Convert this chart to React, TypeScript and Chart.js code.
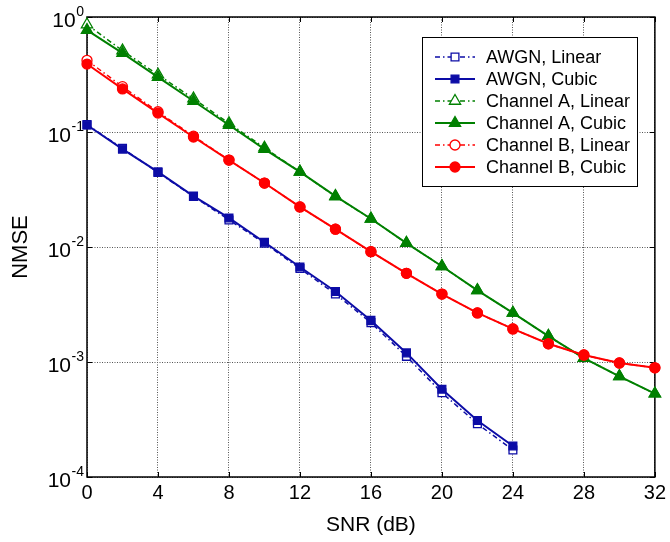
import React, { useEffect, useRef } from "react";
import { Chart, registerables } from "chart.js";

Chart.register(...registerables);

const SNR = [0, 2, 4, 6, 8, 10, 12, 14, 16, 18, 20, 22, 24, 26, 28, 30, 32];
const SNR_AWGN = [0, 2, 4, 6, 8, 10, 12, 14, 16, 18, 20, 22, 24];

const AWGN_LINEAR = [0.116, 0.072, 0.0445, 0.0275, 0.0172, 0.0108, 0.0065, 0.0039, 0.0022, 0.00112, 0.00054, 0.00029, 0.000172];
const AWGN_CUBIC = [0.115, 0.071, 0.045, 0.0277, 0.0179, 0.011, 0.0067, 0.0041, 0.0023, 0.0012, 0.00058, 0.00031, 0.000186];
const CHA_LINEAR = [0.86, 0.51, 0.315, 0.195, 0.119, 0.073, 0.045, 0.0275, 0.0176, 0.0108, 0.0068, 0.0042, 0.00267, 0.00168, 0.00108, 0.00075, 0.00053];
const CHA_CUBIC = [0.77, 0.486, 0.3, 0.186, 0.115, 0.071, 0.045, 0.0277, 0.0176, 0.0108, 0.0068, 0.0042, 0.00267, 0.00168, 0.00108, 0.00075, 0.00053];
const CHB_LINEAR = [0.42, 0.248, 0.15, 0.092, 0.057, 0.036, 0.0223, 0.0143, 0.0091, 0.0059, 0.0039, 0.00267, 0.00194, 0.00144, 0.00115, 0.00098, 0.00089];
const CHB_CUBIC = [0.39, 0.237, 0.146, 0.0905, 0.057, 0.036, 0.0223, 0.0143, 0.0091, 0.0059, 0.0039, 0.00267, 0.00194, 0.00144, 0.00115, 0.00098, 0.00089];

const SERIES_NAMES = [
  "AWGN, Linear",
  "AWGN, Cubic",
  "Channel A, Linear",
  "Channel A, Cubic",
  "Channel B, Linear",
  "Channel B, Cubic",
];

const X_TICKS = [0, 4, 8, 12, 16, 20, 24, 28, 32];
const Y_TICKS = [1e-4, 1e-3, 1e-2, 1e-1, 1];
const X_TITLE = "SNR (dB)";
const Y_TITLE = "NMSE";

const BLUE = "#0c0ca6";
const GREEN = "#008000";
const RED = "#ff0000";
const FONT = '"Liberation Sans", Arial, Helvetica, sans-serif';
const DASH_DOT = [5, 3, 1.5, 3];

function pts(xs: number[], ys: number[]) {
  return xs.map((x, i) => ({ x, y: ys[i] }));
}

function makeDataset(i: number, xs: number[], ys: number[], color: string, style: string, filled: boolean, radius: number) {
  return {
    label: SERIES_NAMES[i],
    data: pts(xs, ys),
    borderColor: color,
    backgroundColor: color,
    borderWidth: filled ? 2 : 1.5,
    borderDash: filled ? [] : DASH_DOT,
    pointStyle: style,
    pointRadius: radius,
    pointBorderWidth: 1.3,
    pointBorderColor: color,
    pointBackgroundColor: filled ? color : "#ffffff",
    tension: 0,
    clip: false as any,
    order: 10 - i,
  };
}

function drawMarker(ctx: CanvasRenderingContext2D, style: string, x: number, y: number, r: number, color: string, filled: boolean) {
  ctx.save();
  ctx.setLineDash([]);
  ctx.lineWidth = 1.3;
  ctx.strokeStyle = color;
  ctx.fillStyle = filled ? color : "#ffffff";
  ctx.beginPath();
  if (style === "rect") {
    const s = Math.SQRT1_2 * r;
    ctx.rect(x - s, y - s, 2 * s, 2 * s);
  } else if (style === "triangle") {
    let rad = 0;
    ctx.moveTo(x + Math.sin(rad) * r, y - Math.cos(rad) * r);
    rad += (2 * Math.PI) / 3;
    ctx.lineTo(x + Math.sin(rad) * r, y - Math.cos(rad) * r);
    rad += (2 * Math.PI) / 3;
    ctx.lineTo(x + Math.sin(rad) * r, y - Math.cos(rad) * r);
    ctx.closePath();
  } else {
    ctx.arc(x, y, r, 0, Math.PI * 2);
  }
  ctx.fill();
  ctx.stroke();
  ctx.restore();
}

const framePlugin = {
  id: "framePlugin",
  beforeDatasetsDraw(chart: any) {
    const { ctx, chartArea: a } = chart;
    const xs = chart.scales.x;
    const ys = chart.scales.y;
    ctx.save();
    ctx.strokeStyle = "#000";
    ctx.lineWidth = 1.5;
    ctx.setLineDash([]);
    ctx.strokeRect(a.left, a.top, a.right - a.left, a.bottom - a.top);
    ctx.lineWidth = 1;
    const tl = 5;
    ctx.beginPath();
    X_TICKS.forEach((v) => {
      const px = Math.round(xs.getPixelForValue(v)) + 0.5;
      ctx.moveTo(px, a.bottom);
      ctx.lineTo(px, a.bottom - tl);
      ctx.moveTo(px, a.top);
      ctx.lineTo(px, a.top + tl);
    });
    Y_TICKS.forEach((v) => {
      const py = Math.round(ys.getPixelForValue(v)) + 0.5;
      ctx.moveTo(a.left, py);
      ctx.lineTo(a.left + tl, py);
      ctx.moveTo(a.right, py);
      ctx.lineTo(a.right - tl, py);
    });
    ctx.stroke();
    ctx.restore();
  },
  afterDraw(chart: any) {
    const { ctx, chartArea: a } = chart;
    const ys = chart.scales.y;
    ctx.save();
    ctx.fillStyle = "#000";
    // y tick labels with superscripts
    Y_TICKS.forEach((v) => {
      const py = ys.getPixelForValue(v);
      const exp = String(Math.round(Math.log10(v)));
      const right = a.left - 3;
      ctx.font = `14px ${FONT}`;
      ctx.textAlign = "right";
      ctx.textBaseline = "alphabetic";
      const supW = ctx.measureText(exp).width;
      ctx.fillText(exp, right, py - 1);
      ctx.font = `21px ${FONT}`;
      ctx.fillText("10", right - supW - 0.5, py + 10);
    });
    // axis titles
    ctx.font = `21px ${FONT}`;
    ctx.textAlign = "center";
    ctx.textBaseline = "middle";
    ctx.fillText(X_TITLE, (a.left + a.right) / 2, 525);
    ctx.save();
    ctx.translate(21, (a.top + a.bottom) / 2);
    ctx.rotate(-Math.PI / 2);
    ctx.font = `22px ${FONT}`;
    ctx.fillText(Y_TITLE, 0, 0);
    ctx.restore();
    // legend
    const lx = 422, ly = 37, lw = 215, lh = 149;
    ctx.fillStyle = "#fff";
    ctx.fillRect(lx, ly, lw, lh);
    ctx.strokeStyle = "#000";
    ctx.lineWidth = 1;
    ctx.strokeRect(lx + 0.5, ly + 0.5, lw, lh);
    chart.data.datasets.forEach((ds: any, i: number) => {
      const y = 57 + i * 22;
      const filled = ds.pointBackgroundColor !== "#ffffff";
      ctx.save();
      ctx.strokeStyle = ds.borderColor;
      ctx.lineWidth = ds.borderWidth;
      ctx.setLineDash(ds.borderDash || []);
      ctx.beginPath();
      ctx.moveTo(435, y);
      ctx.lineTo(475, y);
      ctx.stroke();
      ctx.restore();
      drawMarker(ctx, ds.pointStyle, 455, y, ds.pointRadius, ds.borderColor, filled);
      ctx.fillStyle = "#000";
      ctx.font = `18px ${FONT}`;
      ctx.textAlign = "left";
      ctx.textBaseline = "middle";
      ctx.fillText(ds.label, 486, y + 1);
    });
    ctx.restore();
  },
};

export default function App() {
  const ref = useRef<HTMLCanvasElement | null>(null);
  useEffect(() => {
    if (!ref.current) return;
    const chart = new Chart(ref.current, {
      type: "line",
      data: {
        datasets: [
          makeDataset(0, SNR_AWGN, AWGN_LINEAR, BLUE, "rect", false, 5.5),
          makeDataset(1, SNR_AWGN, AWGN_CUBIC, BLUE, "rect", true, 5.5),
          makeDataset(2, SNR, CHA_LINEAR, GREEN, "triangle", false, 6.5),
          makeDataset(3, SNR, CHA_CUBIC, GREEN, "triangle", true, 6.5),
          makeDataset(4, SNR, CHB_LINEAR, RED, "circle", false, 5),
          makeDataset(5, SNR, CHB_CUBIC, RED, "circle", true, 5),
        ] as any,
      },
      options: {
        animation: false,
        responsive: false,
        maintainAspectRatio: false,
        devicePixelRatio: 1,
        layout: { padding: { top: 17, right: 14, left: 0, bottom: 0 } },
        plugins: {
          legend: { display: false },
          tooltip: { enabled: false },
          title: { display: false },
        },
        scales: {
          x: {
            type: "linear",
            min: 0,
            max: 32,
            afterBuildTicks: (scale: any) => {
              scale.ticks = X_TICKS.map((v) => ({ value: v }));
            },
            afterFit: (scale: any) => {
              scale.height = 65;
            },
            ticks: {
              color: "#000",
              font: { family: FONT, size: 20 },
              padding: 4,
              maxRotation: 0,
              autoSkip: false,
              callback: (v: any) => String(v),
            },
            grid: { color: "#555", lineWidth: 1, drawTicks: false },
            border: { display: false, dash: [1, 1.5] },
          },
          y: {
            type: "logarithmic",
            min: 1e-4,
            max: 1,
            afterBuildTicks: (scale: any) => {
              scale.ticks = Y_TICKS.map((v) => ({ value: v }));
            },
            afterFit: (scale: any) => {
              scale.width = 87;
            },
            ticks: { display: false },
            grid: { color: "#555", lineWidth: 1, drawTicks: false },
            border: { display: false, dash: [1, 1.5] },
          },
        },
      } as any,
      plugins: [framePlugin],
    });
    return () => chart.destroy();
  }, []);
  return (
    <div style={{ position: "absolute", left: 0, top: 0, width: 670, height: 542, background: "#fff" }}>
      <canvas ref={ref} width={670} height={542} style={{ width: 670, height: 542 }} />
    </div>
  );
}
